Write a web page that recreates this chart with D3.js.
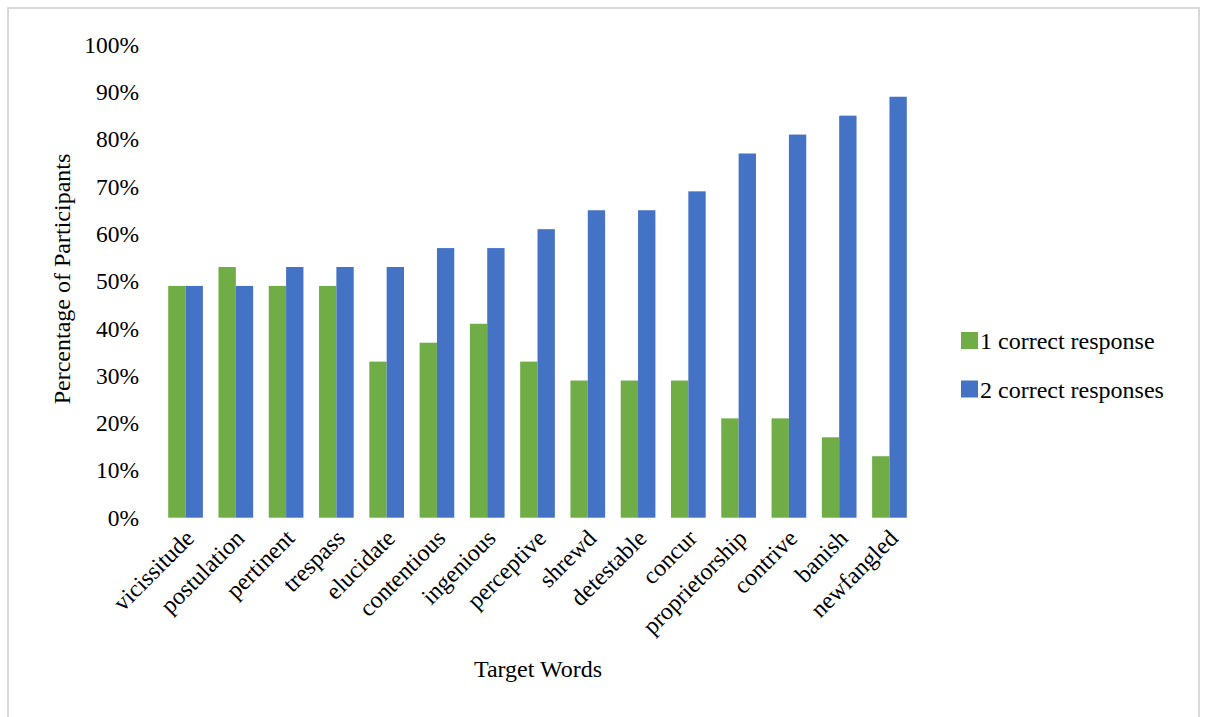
<!DOCTYPE html>
<html>
<head>
<meta charset="utf-8">
<script src="https://cdn.jsdelivr.net/npm/d3@7"></script>
<style>
  body { margin: 0; background: #fff; }
  svg text { font-family: "Liberation Serif", "Times New Roman", serif !important; fill: #000; }
</style>
</head>
<body>
<div id="chart"></div>
<script>
var words = ["vicissitude", "postulation", "pertinent", "trespass", "elucidate", "contentious",
	"ingenious", "perceptive", "shrewd", "detestable", "concur", "proprietorship",
	"contrive", "banish", "newfangled"];
var one_correct = [49, 53, 49, 49, 33, 37, 41, 33, 29, 29, 29, 21, 21, 17, 13];
var two_correct = [49, 49, 53, 53, 53, 57, 57, 61, 65, 65, 69, 77, 81, 85, 89];
var series_names = ["1 correct response", "2 correct responses"];
var series_colors = ["#70AD47", "#4472C4"];
var y_ticks = [0, 10, 20, 30, 40, 50, 60, 70, 80, 90, 100];

var W = 1205, H = 717,
	plot_left = 160.4, plot_right = 914.6,
	plot_top = 44.7, plot_bottom = 517.7,
	tick_size = 23.5,
	font_size = 24;

var svg = d3.select("#chart").append("svg")
		.attr("width", W)
		.attr("height", H);

// outer frame
svg.append("rect")
		.attr("x", 8)
		.attr("y", 8)
		.attr("width", 1191)
		.attr("height", 720)
		.attr("fill", "#fff")
		.attr("stroke", "#d9d9d9")
		.attr("stroke-width", 2);

var x0 = d3.scaleBand()
		.domain(words)
		.range([plot_left, plot_right])
		.padding(0);

var x1 = d3.scaleBand()
		.domain(series_names)
		.range([0, x0.bandwidth()])
		.paddingInner(0)
		.paddingOuter(0.45);

var y = d3.scaleLinear()
		.domain([0, 100])
		.range([plot_bottom, plot_top]);

var rows = words.map(function(w, i){
	return {word: w, values: [one_correct[i], two_correct[i]]};
});

// bars
var groups = svg.selectAll(".group")
		.data(rows)
	.enter().append("g")
		.attr("class", "group")
		.attr("transform", function(d){ return "translate(" + x0(d.word) + ",0)"; });

groups.selectAll("rect")
		.data(function(d){ return d.values.map(function(v, j){ return {name: series_names[j], value: v, color: series_colors[j]}; }); })
	.enter().append("rect")
		.attr("x", function(d){ return x1(d.name); })
		.attr("width", x1.bandwidth())
		.attr("y", function(d){ return y(d.value); })
		.attr("height", function(d){ return plot_bottom - y(d.value); })
		.attr("fill", function(d){ return d.color; });

// y axis labels
var yAxis = d3.axisLeft(y)
		.tickValues(y_ticks)
		.tickSize(0)
		.tickPadding(0)
		.tickFormat(function(d){ return d + "%"; });

var yg = svg.append("g")
		.attr("transform", "translate(139,0)")
		.call(yAxis)
		.attr("font-family", null)
		.attr("font-size", null);
yg.select(".domain").remove();
yg.selectAll("text")
		.style("font-size", tick_size + "px");

// x axis labels, rotated
var xAxis = d3.axisBottom(x0)
		.tickSize(0)
		.tickPadding(0);

var xg = svg.append("g")
		.attr("transform", "translate(0," + plot_bottom + ")")
		.call(xAxis)
		.attr("font-family", null)
		.attr("font-size", null);
xg.select(".domain").remove();
xg.selectAll("text")
		.style("font-size", font_size + "px")
		.attr("text-anchor", "end")
		.attr("y", 0)
		.attr("dy", "0.35em")
		.attr("transform", "translate(4,16) rotate(-45)");

// axis titles
svg.append("text")
		.attr("x", 538)
		.attr("y", 677)
		.attr("text-anchor", "middle")
		.style("font-size", font_size + "px")
		.text("Target Words");

svg.append("text")
		.attr("transform", "translate(70,279) rotate(-90)")
		.attr("text-anchor", "middle")
		.style("font-size", font_size + "px")
		.text("Percentage of Participants");

// legend
var legend = svg.selectAll(".legend")
		.data(series_names)
	.enter().append("g")
		.attr("class", "legend")
		.attr("transform", function(d, i){ return "translate(961," + (332 + i * 48.5) + ")"; });

legend.append("rect")
		.attr("width", 17)
		.attr("height", 17)
		.attr("fill", function(d, i){ return series_colors[i]; });

legend.append("text")
		.attr("x", 19)
		.attr("y", 17)
		.style("font-size", font_size + "px")
		.text(function(d){ return d; });
</script>
</body>
</html>
